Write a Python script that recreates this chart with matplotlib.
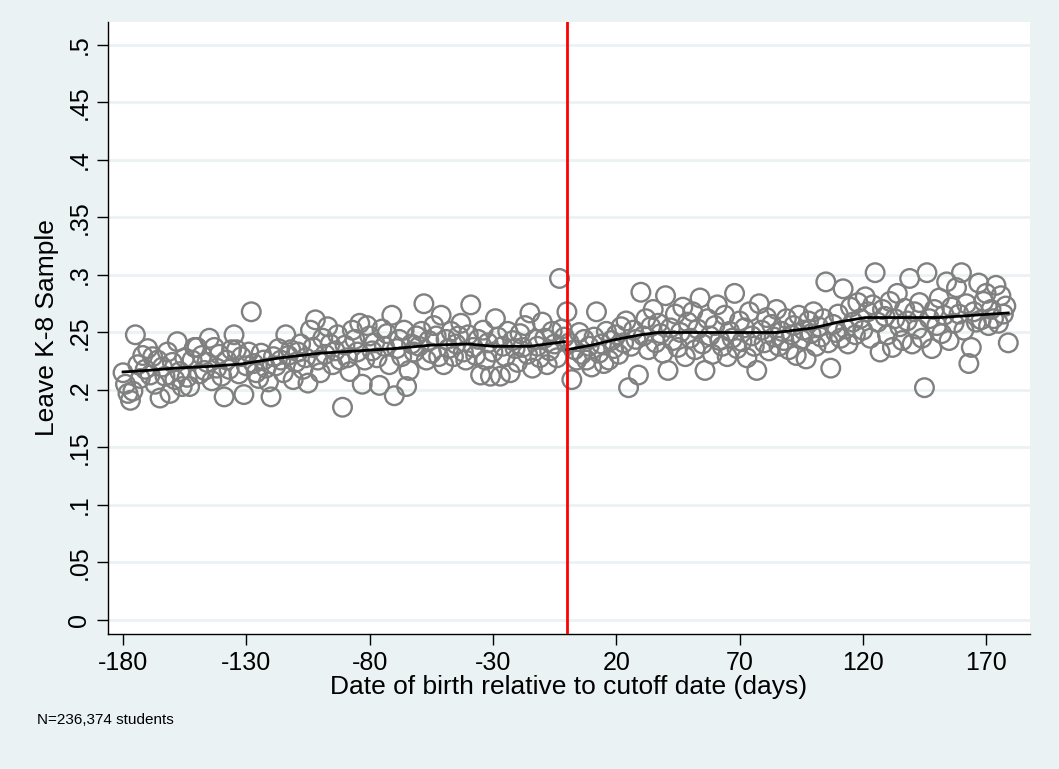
import matplotlib
matplotlib.use("Agg")
import matplotlib.pyplot as plt
import numpy as np

plt.rcParams['font.family'] = ['Liberation Sans', 'DejaVu Sans']
plt.rcParams['axes.unicode_minus'] = False

# one share per day of birth, -180 .. 179
days = list(range(-180, 180))
share = [
    0.215, 0.205, 0.197, 0.191, 0.199, 0.248, 0.222, 0.210, 0.230, 0.218,
    0.236, 0.213, 0.229, 0.205, 0.226, 0.193, 0.220, 0.212, 0.233, 0.197,
    0.224, 0.209, 0.242, 0.216, 0.203, 0.228, 0.211, 0.203, 0.226, 0.237,
    0.237, 0.214, 0.230, 0.217, 0.224, 0.245, 0.208, 0.237, 0.219, 0.231,
    0.212, 0.194, 0.226, 0.218, 0.235, 0.248, 0.235, 0.214, 0.229, 0.196,
    0.221, 0.233, 0.268, 0.223, 0.215, 0.210, 0.232, 0.226, 0.219, 0.207,
    0.194, 0.229, 0.221, 0.236, 0.226, 0.215, 0.248, 0.230, 0.235, 0.209,
    0.224, 0.233, 0.240, 0.218, 0.228, 0.206, 0.252, 0.237, 0.261, 0.226,
    0.215, 0.245, 0.231, 0.255, 0.240, 0.222, 0.234, 0.248, 0.226, 0.185,
    0.239, 0.228, 0.216, 0.252, 0.244, 0.233, 0.258, 0.205, 0.226, 0.256,
    0.247, 0.234, 0.241, 0.228, 0.204, 0.253, 0.238, 0.249, 0.222, 0.265,
    0.195, 0.236, 0.244, 0.229, 0.252, 0.203, 0.217, 0.240, 0.233, 0.247,
    0.238, 0.251, 0.275, 0.226, 0.243, 0.232, 0.256, 0.247, 0.229, 0.265,
    0.222, 0.244, 0.236, 0.251, 0.229, 0.240, 0.247, 0.258, 0.233, 0.226,
    0.248, 0.274, 0.237, 0.230, 0.244, 0.213, 0.252, 0.226, 0.241, 0.212,
    0.233, 0.262, 0.246, 0.212, 0.238, 0.229, 0.251, 0.215, 0.243, 0.236,
    0.224, 0.249, 0.237, 0.256, 0.231, 0.267, 0.219, 0.244, 0.238, 0.228,
    0.259, 0.245, 0.222, 0.234, 0.251, 0.240, 0.228, 0.297, 0.253, 0.246,
    0.268, 0.241, 0.209, 0.235, 0.226, 0.250, 0.231, 0.244, 0.226, 0.238,
    0.220, 0.246, 0.268, 0.232, 0.240, 0.223, 0.251, 0.226, 0.243, 0.236,
    0.248, 0.231, 0.255, 0.241, 0.260, 0.202, 0.238, 0.252, 0.244, 0.213,
    0.285, 0.247, 0.262, 0.235, 0.255, 0.270, 0.241, 0.258, 0.249, 0.232,
    0.282, 0.217, 0.254, 0.243, 0.266, 0.237, 0.250, 0.272, 0.229, 0.259,
    0.245, 0.268, 0.235, 0.253, 0.280, 0.240, 0.217, 0.262, 0.247, 0.231,
    0.256, 0.274, 0.243, 0.238, 0.265, 0.229, 0.251, 0.245, 0.284, 0.236,
    0.260, 0.242, 0.254, 0.228, 0.268, 0.247, 0.238, 0.217, 0.275, 0.252,
    0.241, 0.263, 0.234, 0.257, 0.246, 0.270, 0.238, 0.251, 0.243, 0.262,
    0.235, 0.248, 0.256, 0.230, 0.265, 0.244, 0.252, 0.227, 0.260, 0.249,
    0.268, 0.238, 0.255, 0.246, 0.262, 0.294, 0.241, 0.219, 0.257, 0.250,
    0.266, 0.245, 0.288, 0.253, 0.240, 0.272, 0.259, 0.248, 0.276, 0.262,
    0.252, 0.281, 0.268, 0.245, 0.274, 0.302, 0.259, 0.233, 0.270, 0.264,
    0.248, 0.277, 0.237, 0.262, 0.284, 0.255, 0.243, 0.271, 0.260, 0.297,
    0.240, 0.268, 0.253, 0.276, 0.245, 0.202, 0.302, 0.262, 0.236, 0.270,
    0.256, 0.280, 0.249, 0.265, 0.294, 0.243, 0.272, 0.258, 0.289, 0.266,
    0.302, 0.252, 0.275, 0.223, 0.237, 0.268, 0.259, 0.293, 0.261, 0.277,
    0.284, 0.256, 0.270, 0.262, 0.291, 0.258, 0.282, 0.266, 0.273, 0.241,
]

# smoothed fit, each side of the cutoff
fit_left_x = [-180, -170, -159, -145, -132, -116, -100, -85, -70, -55, -40, -30, -15, -1]
fit_left_y = [0.2157, 0.2170, 0.2190, 0.2205, 0.2226, 0.2280, 0.2320, 0.2340, 0.2360,
              0.2390, 0.2400, 0.2380, 0.2380, 0.2420]
fit_right_x = [0, 10, 20, 30, 37, 50, 70, 85, 100, 110, 121, 135, 151, 165, 179]
fit_right_y = [0.2350, 0.2390, 0.2440, 0.2480, 0.2500, 0.2500, 0.2500, 0.2500, 0.2540,
               0.2590, 0.2630, 0.2630, 0.2630, 0.2650, 0.2670]

xticks = [-180, -130, -80, -30, 20, 70, 120, 170]
yticks = [0, 0.05, 0.1, 0.15, 0.2, 0.25, 0.3, 0.35, 0.4, 0.45, 0.5]
ylabels = ['0', '.05', '.1', '.15', '.2', '.25', '.3', '.35', '.4', '.45', '.5']

bg = '#EAF2F3'
fig = plt.figure(figsize=(10.59, 7.69), dpi=100, facecolor=bg)
ax = fig.add_axes([108/1059, 1 - 634/769, 922/1059, 612/769])
ax.set_facecolor('white')

for yv in yticks:
    ax.axhline(yv, color=bg, lw=2, zorder=0)

ax.scatter(days, share, s=180, facecolors='none', edgecolors='#808080',
           linewidths=1.7, zorder=2)
ax.plot(fit_left_x, fit_left_y, color='black', lw=2, zorder=3)
ax.plot(fit_right_x, fit_right_y, color='black', lw=2, zorder=3)
ax.axvline(0, color='red', lw=2, zorder=4)

ax.set_xlim(-186.1, 187.8)
ax.set_ylim(-0.0122, 0.52)
ax.set_xticks(xticks)
ax.set_yticks(yticks)
ax.set_yticklabels(ylabels, rotation=90, va='center')
ax.tick_params(axis='both', direction='out', length=8, width=1, labelsize=18, pad=4)

for side in ['top', 'right']:
    ax.spines[side].set_visible(False)
ax.spines['left'].set_linewidth(1)
ax.spines['bottom'].set_linewidth(1)

ax.set_xlabel('Date of birth relative to cutoff date (days)', fontsize=19, labelpad=0)
ax.set_ylabel('Leave K-8 Sample', fontsize=19, labelpad=6)
fig.text(37/1059, 1 - 720/769, 'N=236,374 students', fontsize=11, va='center')

fig.savefig('out.png', dpi=100, facecolor=bg)
